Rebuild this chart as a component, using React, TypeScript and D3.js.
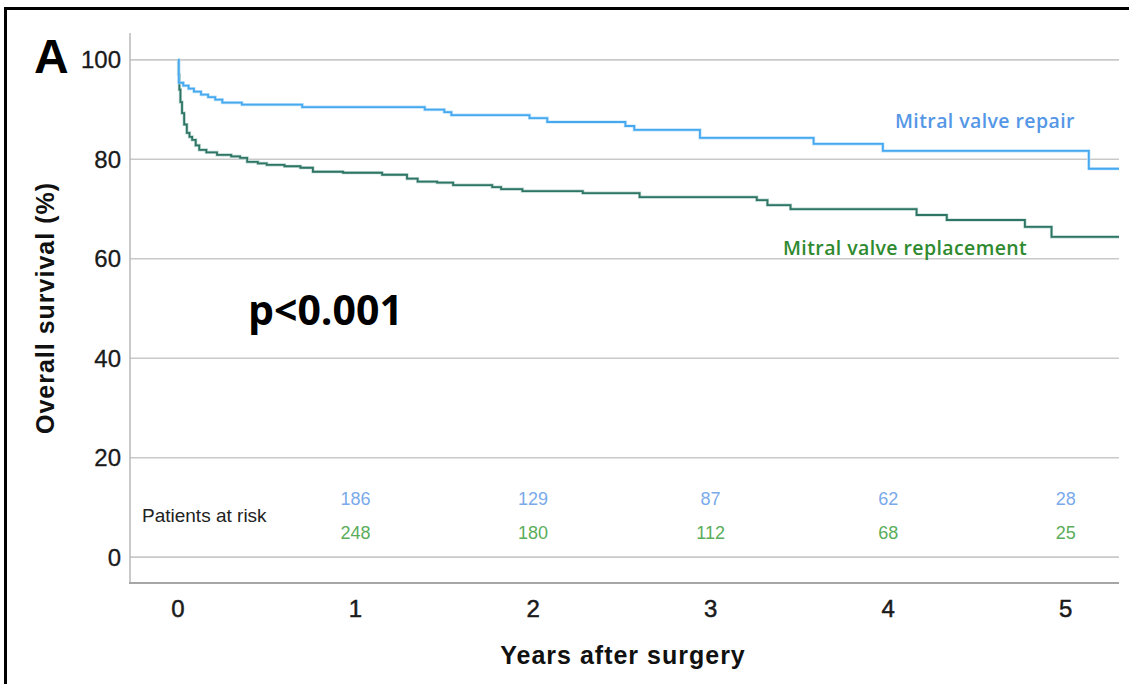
import React from "react";
import * as d3 from "d3";

const repairTimes = [0, 0.005, 0.03, 0.06, 0.09, 0.13, 0.17, 0.21, 0.25, 0.36, 0.70, 1.39, 1.50, 1.54, 1.98, 2.08, 2.52, 2.57, 2.94, 3.58, 3.97, 5.13, 5.30];
const repairSurv = [100, 95.4, 94.8, 94.2, 93.6, 93.0, 92.5, 92.0, 91.4, 91.0, 90.5, 90.0, 89.5, 88.9, 88.3, 87.5, 86.7, 85.9, 84.3, 83.1, 81.7, 78.1, 78.1];

const replTimes = [0, 0.003, 0.008, 0.014, 0.023, 0.035, 0.05, 0.065, 0.08, 0.10, 0.12, 0.16, 0.22, 0.30, 0.35, 0.39, 0.45, 0.50, 0.60, 0.69, 0.76, 0.93, 1.15, 1.29, 1.35, 1.46, 1.55, 1.77, 1.82, 1.94, 2.28, 2.60, 3.26, 3.32, 3.45, 4.16, 4.33, 4.77, 4.92, 5.30];
const replSurv = [100, 97, 94, 91.5, 89.3, 87, 85.3, 84.5, 83.9, 82.8, 81.9, 81.4, 80.9, 80.6, 80.3, 79.5, 79.2, 78.9, 78.6, 78.3, 77.5, 77.3, 76.9, 76.1, 75.5, 75.3, 74.8, 74.4, 74.0, 73.6, 73.2, 72.4, 71.8, 70.8, 70.0, 68.8, 67.8, 66.4, 64.4, 64.4];

const xTicks = [0, 1, 2, 3, 4, 5];
const yTicks = [0, 20, 40, 60, 80, 100];

const riskYears = [1, 2, 3, 4, 5];
const riskRepair = [186, 129, 87, 62, 28];
const riskReplacement = [248, 180, 112, 68, 25];

const W = 1129;
const H = 684;

export default function App() {
  const x = d3.scaleLinear().domain([-0.27, 5.3]).range([130, 1119]);
  const y = d3.scaleLinear().domain([-5.2, 105.4]).range([583, 33]);

  const line = d3
    .line<[number, number]>()
    .x((d) => x(d[0]))
    .y((d) => y(d[1]))
    .curve(d3.curveStepAfter);

  const repairPts: [number, number][] = repairTimes.map((t, i) => [t, repairSurv[i]]);
  const replPts: [number, number][] = replTimes.map((t, i) => [t, replSurv[i]]);

  const arial = "'Liberation Sans', Arial, sans-serif";

  return (
    <svg
      width={W}
      height={H}
      style={{ position: "absolute", left: 0, top: 0, background: "#fff" }}
    >
      <rect x={0} y={0} width={W} height={H} fill="#fff" />
      {/* frame */}
      <line x1={4} y1={8.5} x2={W} y2={8.5} stroke="#000" strokeWidth={3} />
      <line x1={5.5} y1={7} x2={5.5} y2={H} stroke="#000" strokeWidth={3} />

      {/* gridlines */}
      {yTicks.map((v) => (
        <line key={v} x1={130} x2={1119} y1={y(v)} y2={y(v)} stroke="#c9c9c9" strokeWidth={1.6} />
      ))}
      {/* axes */}
      <line x1={130} x2={130} y1={33} y2={583} stroke="#b9b9b9" strokeWidth={1.5} />
      <line x1={129} x2={1119} y1={583} y2={583} stroke="#a6a6a6" strokeWidth={2} />

      {/* y tick labels */}
      {yTicks.map((v) => (
        <text key={v} x={121} y={y(v) + 8.5} textAnchor="end" fontFamily={arial} fontSize={24} fill="#1a1a1a" stroke="#1a1a1a" strokeWidth={0.3}>
          {v}
        </text>
      ))}
      {/* x tick labels */}
      {xTicks.map((v) => (
        <text key={v} x={x(v)} y={617} textAnchor="middle" fontFamily={arial} fontSize={24} fill="#1a1a1a" stroke="#1a1a1a" strokeWidth={0.5}>
          {v}
        </text>
      ))}

      {/* curves */}
      <path d={line(replPts) || ""} fill="none" stroke="#b9d6cf" strokeWidth={3.2} />
      <path d={line(replPts) || ""} fill="none" stroke="#2e7566" strokeWidth={1.8} />
      <path d={line(repairPts) || ""} fill="none" stroke="#bfe2fb" strokeWidth={3.2} />
      <path d={line(repairPts) || ""} fill="none" stroke="#46a9ef" strokeWidth={1.8} />

      {/* series labels */}
      <text x={895} y={128} fontFamily="'Open Sans', sans-serif" fontWeight={600} fontSize={19.5} letterSpacing={0.4} fill="#5597e6">
        Mitral valve repair
      </text>
      <text x={783} y={255} fontFamily="'Open Sans', sans-serif" fontWeight={600} fontSize={19.5} letterSpacing={0.4} fill="#2f8a2f">
        Mitral valve replacement
      </text>

      {/* p value */}
      <text x={248} y={325} fontFamily="'Open Sans', sans-serif" fontWeight={700} fontSize={41} fill="#000">
        p&lt;0.001
      </text>

      {/* panel letter */}
      <text x={34} y={73} fontFamily={arial} fontWeight={700} fontSize={48} fill="#000">
        A
      </text>

      {/* patients at risk */}
      <text x={142} y={521.5} fontFamily={arial} fontSize={19} fill="#222">
        Patients at risk
      </text>
      {riskYears.map((t, i) => (
        <text key={"r" + t} x={x(t)} y={504.5} textAnchor="middle" fontFamily={arial} fontSize={18} fill="#7aaaea">
          {riskRepair[i]}
        </text>
      ))}
      {riskYears.map((t, i) => (
        <text key={"g" + t} x={x(t)} y={538.5} textAnchor="middle" fontFamily={arial} fontSize={18} fill="#5aad5a">
          {riskReplacement[i]}
        </text>
      ))}

      {/* axis titles */}
      <text x={623} y={664} textAnchor="middle" fontFamily={arial} fontWeight={700} fontSize={25} letterSpacing={1} fill="#111">
        Years after surgery
      </text>
      <text
        transform={`translate(54,308) rotate(-90)`}
        textAnchor="middle"
        fontFamily={arial}
        fontWeight={700}
        fontSize={25}
        letterSpacing={1}
        fill="#111"
      >
        Overall survival (%)
      </text>
    </svg>
  );
}
